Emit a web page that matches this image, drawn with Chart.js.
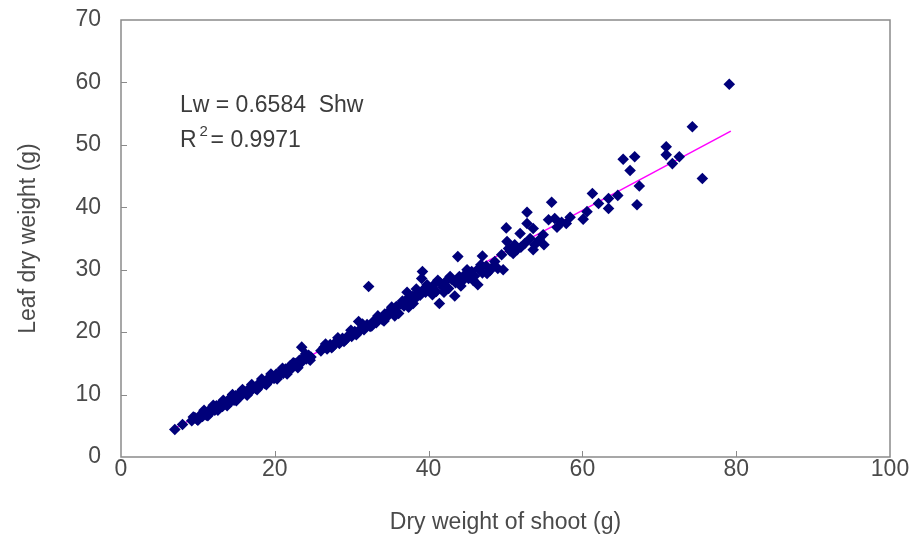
<!DOCTYPE html>
<html>
<head>
<meta charset="utf-8">
<script src="https://cdn.jsdelivr.net/npm/chart.js@4"></script>
<style>
  html, body { margin: 0; padding: 0; background: #ffffff; }
  #wrap { width: 915px; height: 545px; }
</style>
</head>
<body>
<div id="wrap"><canvas id="c" width="915" height="545"></canvas></div>
<script>
// Dry weight of shoot (g)
const shootWeight = [
  7.0, 8.0, 9.2, 9.6, 9.9, 10.3, 10.6, 10.9, 11.1, 11.4, 11.7, 11.9, 12.2, 12.4, 12.7, 12.9,
  13.2, 13.4, 13.7, 13.9, 14.2, 14.4, 14.7, 14.9, 15.2, 15.4, 15.7, 16.0, 16.3, 16.6, 16.9,
  17.2, 17.5, 17.8, 18.1, 18.4, 18.7, 19.0, 19.3, 19.6, 19.9, 20.2, 20.5, 20.8, 21.1, 21.4,
  21.7, 22.0, 22.3, 22.6, 22.9, 23.2, 23.5, 23.5, 23.8, 24.1, 24.4, 24.7,
  26.0, 26.4, 26.8, 27.2, 27.6, 28.0, 28.4, 28.8, 29.2, 29.6, 30.0, 30.4, 30.9, 30.8, 31.2,
  31.6, 32.0, 32.2, 32.4, 32.8, 33.2, 33.6, 34.0, 34.3, 34.7, 35.0, 35.4, 35.8, 36.1, 36.4,
  36.8, 37.1, 37.2, 37.5, 37.9, 38.2, 38.6, 38.9, 39.1, 39.2, 39.3, 39.6, 40.0, 40.3, 40.7,
  41.0, 41.4, 41.5, 41.9, 42.3, 42.6, 43.0, 43.4, 43.5, 43.8, 44.0, 44.4, 44.8, 45.2, 45.6,
  46.0, 46.4, 46.5, 47.0, 47.0, 47.5, 48.0, 48.6, 49.0, 49.5, 49.7, 50.1, 50.2, 50.4, 51.0,
  51.5, 51.9, 52.5, 52.8, 52.8, 53.2, 53.6, 53.6, 53.8, 54.4, 54.9, 55.0, 55.6, 56.0, 56.4,
  56.7, 57.3, 57.9, 58.4, 60.1, 60.6, 61.3, 62.1, 63.4, 63.4, 64.6, 65.3, 66.2, 66.8, 67.1,
  67.4, 70.9, 70.9, 71.7, 72.6, 74.3, 75.6, 79.1,
  9.4, 10.0, 10.8, 11.3, 12.0, 12.6, 13.3, 13.8, 14.5, 15.0, 15.8, 16.4, 17.0, 17.7, 18.3,
  18.9, 19.5, 20.3, 21.0, 21.6, 22.4, 23.0, 24.0, 24.6, 26.6, 27.4, 28.2, 29.0, 29.9, 30.6,
  31.4, 32.6, 33.4, 34.2, 35.2, 35.6, 36.6, 37.4, 38.4, 38.0, 39.8, 40.5, 41.2, 42.0, 42.8,
  44.2, 45.0, 45.8, 46.8, 47.6, 48.3, 50.6, 51.2, 52.0
];
// Leaf dry weight (g)
const leafWeight = [
  4.4, 5.2, 5.8, 6.3, 6.0, 6.7, 6.5, 7.1, 6.7, 7.4, 7.2, 7.8, 7.5, 8.2, 7.9, 8.5,
  8.1, 8.8, 8.4, 9.1, 8.8, 9.5, 9.1, 9.8, 9.5, 10.2, 9.9, 10.5, 10.2, 10.9, 10.6,
  11.2, 11.0, 11.6, 11.4, 12.0, 11.8, 12.4, 12.2, 12.8, 12.6, 13.3, 13.0, 13.7, 13.4, 14.1,
  13.8, 14.6, 14.3, 15.0, 14.7, 15.5, 17.6, 15.2, 16.0, 15.7, 16.3, 16.0,
  17.0, 17.6, 17.3, 18.0, 17.8, 18.5, 18.2, 19.0, 18.8, 19.5, 19.3, 20.1, 21.7, 19.9, 20.6,
  20.4, 21.2, 27.3, 20.9, 21.7, 21.5, 22.3, 22.0, 22.9, 22.6, 23.5, 23.2, 24.1, 23.0, 24.5,
  24.2, 25.2, 26.4, 24.8, 25.7, 25.3, 26.3, 25.9, 28.6, 29.7, 26.8, 26.4, 27.2, 26.8, 27.6,
  26.5, 24.6, 27.9, 27.2, 28.2, 27.0, 28.5, 25.8, 27.9, 32.1, 28.9, 28.2, 29.3, 28.6, 29.7,
  29.0, 27.6, 30.2, 32.2, 29.5, 30.6, 29.9, 31.3, 30.2, 32.4, 30.0, 36.7, 34.5, 33.4, 32.6,
  33.2, 35.8, 34.2, 39.2, 37.4, 35.0, 36.6, 33.2, 34.0, 34.8, 35.6, 34.0, 38.0, 40.8, 38.2,
  36.8, 37.6, 37.4, 38.4, 38.1, 39.3, 42.2, 40.6, 41.4, 39.8, 41.9, 47.7, 45.9, 48.1, 40.4,
  43.4, 49.7, 48.4, 47.0, 48.1, 52.9, 44.6, 59.7,
  6.4, 5.9, 7.5, 6.6, 8.3, 7.5, 9.1, 8.2, 10.0, 9.0, 10.8, 9.9, 11.6, 10.8, 12.5,
  11.6, 13.3, 12.5, 14.2, 13.3, 15.1, 14.3, 16.5, 15.5, 18.1, 17.5, 19.1, 18.5, 20.3, 19.6,
  21.3, 21.0, 22.6, 21.8, 24.0, 22.6, 25.0, 24.0, 26.9, 24.6, 27.6, 26.0, 28.3, 26.4, 28.9,
  27.4, 30.0, 28.3, 30.8, 29.4, 30.4, 33.0, 34.0, 33.6
];
// Linear trend line Lw = 0.6584 Shw, endpoints
const trendShoot = [6.9, 79.3];
const trendLeaf = [4.54, 52.2];

const xTicks = [0, 20, 40, 60, 80, 100];
const yTicks = [0, 10, 20, 30, 40, 50, 60, 70];

const equationText = 'Lw = 0.6584  Shw';
const r2Value = '= 0.9971';

const FONT = "'Liberation Sans', Arial, sans-serif";
const TEXT = '#4a4a4a';
const AXIS = '#8a8a8a';

const points = shootWeight.map((x, i) => ({ x: x, y: leafWeight[i] }));
const trend = trendShoot.map((x, i) => ({ x: x, y: trendLeaf[i] }));

const framePlugin = {
  id: 'frame',
  afterDatasetsDraw(chart) {
    const ctx = chart.ctx;
    const a = chart.chartArea;
    const xs = chart.scales.x, ys = chart.scales.y;
    ctx.save();
    ctx.strokeStyle = AXIS;
    ctx.lineWidth = 1.5;
    ctx.strokeRect(a.left, a.top, a.right - a.left, a.bottom - a.top);
    ctx.lineWidth = 1;
    ctx.beginPath();
    xTicks.slice(1, -1).forEach(v => {
      const px = Math.round(xs.getPixelForValue(v)) + 0.5;
      ctx.moveTo(px, a.bottom);
      ctx.lineTo(px, a.bottom - 6);
    });
    yTicks.slice(1, -1).forEach(v => {
      const py = Math.round(ys.getPixelForValue(v)) + 0.5;
      ctx.moveTo(a.left, py);
      ctx.lineTo(a.left + 6, py);
    });
    ctx.stroke();

    // equation annotation
    ctx.fillStyle = '#3c3c3c';
    ctx.textBaseline = 'alphabetic';
    ctx.textAlign = 'left';
    ctx.font = '23px ' + FONT;
    const tx = a.left + 59;
    ctx.fillText(equationText, tx, a.top + 92);
    ctx.fillText('R', tx, a.top + 127);
    const rw = ctx.measureText('R').width;
    ctx.font = '15px ' + FONT;
    ctx.fillText('2', tx + rw + 3, a.top + 116);
    ctx.font = '23px ' + FONT;
    ctx.fillText(r2Value, tx + rw + 14, a.top + 127);
    ctx.restore();
  }
};

new Chart(document.getElementById('c'), {
  data: {
    datasets: [
      {
        type: 'scatter',
        data: points,
        order: 0,
        pointStyle: 'rectRot',
        pointRadius: 5.8,
        pointHoverRadius: 5.8,
        backgroundColor: '#00007a',
        borderColor: '#00007a',
        borderWidth: 0
      },
      {
        type: 'line',
        data: trend,
        order: 1,
        borderColor: '#ff00ff',
        borderWidth: 1.5,
        pointRadius: 0,
        fill: false
      }
    ]
  },
  options: {
    responsive: false,
    animation: false,
    events: [],
    layout: { padding: { top: 20, right: 25, left: 0, bottom: 0 } },
    plugins: { legend: { display: false }, tooltip: { enabled: false } },
    scales: {
      x: {
        type: 'linear',
        position: 'bottom',
        min: 0, max: 100,
        afterBuildTicks(s) { s.ticks = xTicks.map(v => ({ value: v })); },
        afterFit(s) { s.height = 88; s.paddingLeft = 0; s.paddingRight = 0; },
        grid: { display: false, drawTicks: false },
        border: { display: false },
        ticks: {
          padding: 1,
          color: TEXT,
          font: { family: FONT, size: 23, lineHeight: 1 },
          maxRotation: 0
        },
        title: {
          display: true,
          text: 'Dry weight of shoot (g)',
          color: TEXT,
          font: { family: FONT, size: 23, lineHeight: 1.2 },
          padding: { top: 0, bottom: 9 }
        }
      },
      y: {
        type: 'linear',
        min: 0, max: 70,
        afterBuildTicks(s) { s.ticks = yTicks.map(v => ({ value: v })); },
        afterFit(s) { s.width = 121; s.paddingTop = 0; s.paddingBottom = 0; },
        grid: { display: false, drawTicks: false },
        border: { display: false },
        ticks: {
          padding: 20,
          color: TEXT,
          font: { family: FONT, size: 23, lineHeight: 1 }
        },
        title: {
          display: true,
          text: 'Leaf dry weight (g)',
          color: TEXT,
          font: { family: FONT, size: 23, lineHeight: 1.2 },
          padding: { top: 15, bottom: 0 }
        }
      }
    }
  },
  plugins: [framePlugin]
});
</script>
</body>
</html>
